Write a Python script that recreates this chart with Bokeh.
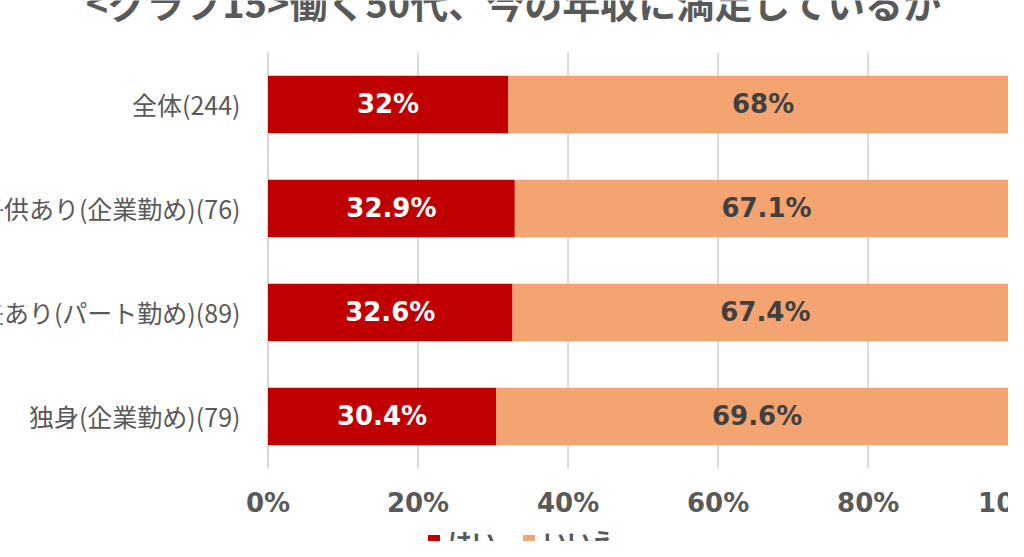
from bokeh.plotting import figure
from bokeh.models import ColumnDataSource, Range1d, Legend, LegendItem, Label
from bokeh.core.properties import value
from bokeh.embed import file_html
from bokeh.resources import INLINE

# ---- data ----
title_text = "<グラフ15>働く50代、今の年収に満足しているか"
categories = ["全体(244)", "既婚・子供あり(企業勤め)(76)", "既婚・夫あり(パート勤め)(89)", "独身(企業勤め)(79)"]
yes_pct = [32, 32.9, 32.6, 30.4]
no_pct = [68, 67.1, 67.4, 69.6]
series_names = ["はい", "いいえ"]
tick_values = [0, 20, 40, 60, 80, 100]
tick_labels = ["0%", "20%", "40%", "60%", "80%", "100%"]

# ---- styles ----
RED = "#C00000"
ORANGE = "#F4A470"
GRAY = "#595959"
DARK = "#404040"
GRID = "#D9D9D9"

W, H = 1008, 541
n = len(categories)
ypos = [n - i - 0.5 for i in range(n)]

p = figure(width=W, height=H, output_backend="svg", toolbar_location=None,
           x_axis_location=None, y_axis_location=None,
           x_range=Range1d(-35.657, 98.707), y_range=Range1d(-0.702, 4.5),
           min_border=0, outline_line_color=None, title=None)
p.xgrid.visible = False
p.ygrid.visible = False
p.background_fill_color = "white"
p.border_fill_color = "white"

# vertical grid lines (only across the plot area)
p.segment(x0=tick_values, y0=[0] * len(tick_values), x1=tick_values,
          y1=[n] * len(tick_values), line_color=GRID, line_width=2)

src = ColumnDataSource(dict(
    y=ypos, cat=categories, yes=yes_pct, no=no_pct,
    total=[a + b for a, b in zip(yes_pct, no_pct)],
    yes_mid=[a / 2 for a in yes_pct],
    no_mid=[a + b / 2 for a, b in zip(yes_pct, no_pct)],
    yes_lab=[f"{v:g}%" for v in yes_pct],
    no_lab=[f"{v:g}%" for v in no_pct],
    lab_x=[-3.67] * n,
))

r_yes = p.hbar(y="y", left=0, right="yes", height=0.555, source=src,
               fill_color=RED, line_color=None)
r_no = p.hbar(y="y", left="yes", right="total", height=0.555, source=src,
              fill_color=ORANGE, line_color=None)

p.text(x="yes_mid", y="y", text="yes_lab", source=src, text_align="center",
       text_baseline="middle", text_color="white", text_font=value("DejaVu Sans"),
       text_font_style="bold", text_font_size="26px")
p.text(x="no_mid", y="y", text="no_lab", source=src, text_align="center",
       text_baseline="middle", text_color=DARK, text_font=value("DejaVu Sans"),
       text_font_style="bold", text_font_size="26px")

# category labels (left of the bars)
p.text(x="lab_x", y="y", text="cat", source=src, text_align="right",
       text_baseline="middle", text_color=GRAY, text_font=value("Noto Sans CJK JP"),
       text_font_size="25px")

# x tick labels
tsrc = ColumnDataSource(dict(x=tick_values, y=[-0.3365] * len(tick_values), t=tick_labels))
p.text(x="x", y="y", text="t", source=tsrc, text_align="center",
       text_baseline="middle", text_color=GRAY, text_font=value("DejaVu Sans"),
       text_font_style="bold", text_font_size="26px")

# title
p.add_layout(Label(x=513.5, y=H - 1, x_units="screen", y_units="screen",
                   text=title_text, text_align="center", text_baseline="alphabetic",
                   text_color=GRAY, text_font="Noto Sans CJK JP",
                   text_font_style="bold", text_font_size="38px"))

legend = Legend(items=[LegendItem(label=series_names[0], renderers=[r_yes]),
                       LegendItem(label=series_names[1], renderers=[r_no])],
                location=(426, -17), orientation="horizontal",
                label_text_font="Noto Sans CJK JP", label_text_font_style="bold",
                label_text_font_size="24px", label_text_color=GRAY,
                glyph_width=15, glyph_height=15, label_standoff=7, spacing=25,
                padding=0, margin=0, border_line_color=None,
                background_fill_alpha=0)
p.add_layout(legend, "center")

open("out.html", "w").write(file_html(p, INLINE))
